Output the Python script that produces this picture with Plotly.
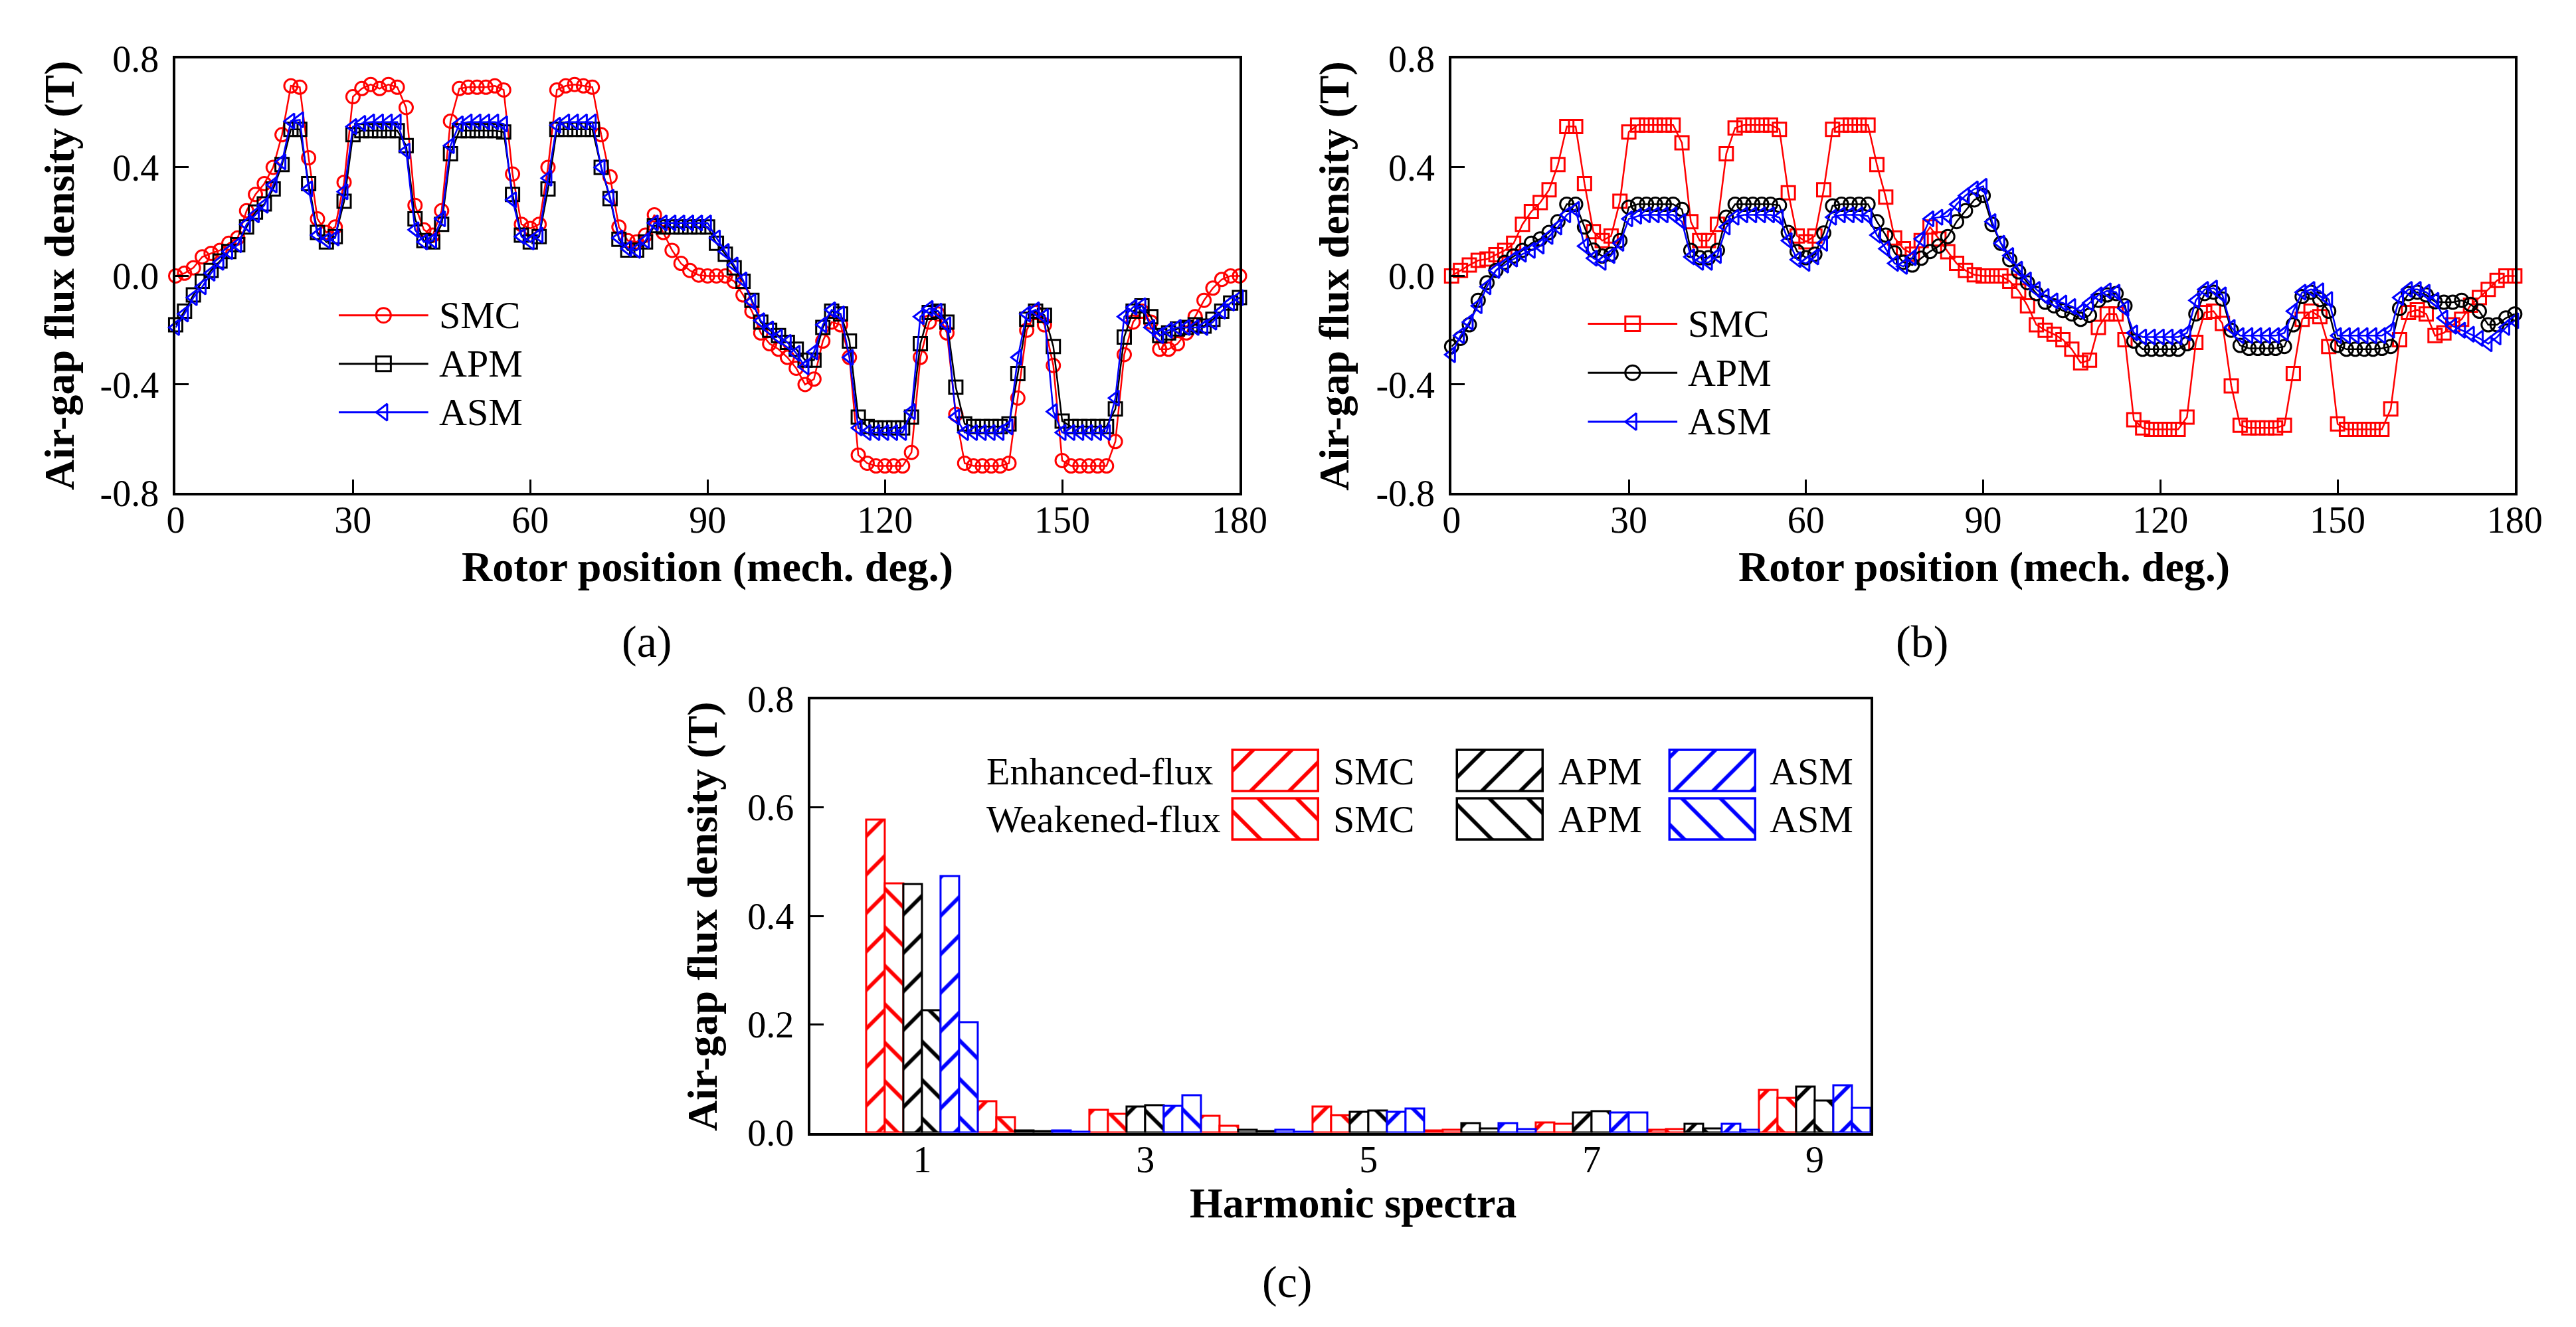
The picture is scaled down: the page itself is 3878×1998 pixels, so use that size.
import plotly.graph_objects as go

# ── Data ───────────────────────────────────────────────────────────────────────

ROTOR_POS = [i * 1.5 for i in range(121)]   # 0 … 180 mech. deg, 1.5 deg step

# (a) enhanced-flux air-gap flux density (T)
ENH_SMC = [
    0.00, 0.01, 0.03, 0.07, 0.083, 0.094, 0.12, 0.14, 0.24, 0.30,
    0.34, 0.40, 0.52, 0.70, 0.695, 0.435, 0.21, 0.16, 0.18, 0.345,
    0.66, 0.69, 0.705, 0.69, 0.705, 0.695, 0.62, 0.26, 0.17, 0.15,
    0.24, 0.57, 0.69, 0.695, 0.695, 0.695, 0.70, 0.685, 0.375, 0.19,
    0.175, 0.19, 0.40, 0.685, 0.70, 0.705, 0.70, 0.695, 0.52, 0.365,
    0.18, 0.13, 0.125, 0.15, 0.225, 0.16, 0.094, 0.046, 0.02, 0.003,
    0.00, 0.00, 0.00, -0.02, -0.07, -0.13, -0.21, -0.25, -0.27, -0.30,
    -0.34, -0.40, -0.38, -0.24, -0.17, -0.18, -0.30, -0.66, -0.69, -0.70,
    -0.70, -0.70, -0.70, -0.65, -0.30, -0.17, -0.14, -0.21, -0.51, -0.69,
    -0.70, -0.70, -0.70, -0.70, -0.69, -0.45, -0.20, -0.135, -0.18, -0.33,
    -0.68, -0.70, -0.70, -0.70, -0.70, -0.70, -0.61, -0.29, -0.17, -0.13,
    -0.17, -0.27, -0.27, -0.25, -0.21, -0.15, -0.09, -0.045, -0.013, 0.00,
    0.00,
]
ENH_APM = [
    -0.18, -0.13, -0.07, -0.02, 0.02, 0.055, 0.09, 0.115, 0.18, 0.235,
    0.265, 0.32, 0.41, 0.54, 0.54, 0.34, 0.16, 0.125, 0.145, 0.275,
    0.52, 0.535, 0.535, 0.535, 0.535, 0.535, 0.48, 0.21, 0.13, 0.125,
    0.19, 0.45, 0.535, 0.535, 0.535, 0.535, 0.535, 0.53, 0.30, 0.15,
    0.125, 0.145, 0.32, 0.54, 0.54, 0.54, 0.54, 0.54, 0.40, 0.285,
    0.135, 0.095, 0.095, 0.125, 0.185, 0.18, 0.18, 0.18, 0.18, 0.18,
    0.18, 0.12, 0.08, 0.03, -0.02, -0.09, -0.17, -0.20, -0.22, -0.245,
    -0.27, -0.31, -0.31, -0.19, -0.13, -0.14, -0.24, -0.52, -0.555, -0.56,
    -0.56, -0.56, -0.56, -0.52, -0.25, -0.135, -0.13, -0.17, -0.41, -0.545,
    -0.555, -0.555, -0.555, -0.555, -0.545, -0.36, -0.16, -0.13, -0.145, -0.26,
    -0.535, -0.555, -0.555, -0.555, -0.555, -0.555, -0.49, -0.225, -0.13, -0.11,
    -0.15, -0.22, -0.21, -0.195, -0.19, -0.18, -0.185, -0.16, -0.13, -0.10,
    -0.08,
]
ENH_ASM = [
    -0.19, -0.14, -0.08, -0.04, 0.01, 0.05, 0.09, 0.115, 0.19, 0.225,
    0.26, 0.335, 0.42, 0.57, 0.575, 0.32, 0.15, 0.13, 0.14, 0.31,
    0.55, 0.562, 0.567, 0.567, 0.567, 0.567, 0.46, 0.17, 0.125, 0.13,
    0.21, 0.48, 0.56, 0.567, 0.567, 0.567, 0.567, 0.56, 0.28, 0.145,
    0.125, 0.15, 0.36, 0.555, 0.567, 0.567, 0.567, 0.567, 0.40, 0.29,
    0.14, 0.10, 0.094, 0.13, 0.195, 0.195, 0.195, 0.195, 0.195, 0.195,
    0.195, 0.14, 0.09, 0.04, -0.015, -0.095, -0.165, -0.195, -0.225, -0.245,
    -0.285, -0.335, -0.28, -0.18, -0.125, -0.14, -0.30, -0.56, -0.577, -0.577,
    -0.577, -0.577, -0.577, -0.50, -0.15, -0.12, -0.13, -0.18, -0.52, -0.577,
    -0.577, -0.577, -0.577, -0.577, -0.556, -0.30, -0.14, -0.125, -0.15, -0.50,
    -0.577, -0.577, -0.577, -0.577, -0.577, -0.577, -0.45, -0.15, -0.115, -0.11,
    -0.19, -0.22, -0.20, -0.19, -0.19, -0.19, -0.19, -0.17, -0.13, -0.10,
    -0.08,
]

# (b) weakened-flux air-gap flux density (T)
WEAK_SMC = [
    0.00, 0.02, 0.04, 0.057, 0.062, 0.078, 0.094, 0.12, 0.19, 0.237,
    0.27, 0.317, 0.41, 0.55, 0.55, 0.34, 0.163, 0.13, 0.147, 0.275,
    0.53, 0.556, 0.556, 0.556, 0.556, 0.556, 0.49, 0.20, 0.13, 0.13,
    0.19, 0.45, 0.545, 0.556, 0.556, 0.556, 0.556, 0.54, 0.306, 0.147,
    0.126, 0.147, 0.317, 0.54, 0.556, 0.556, 0.556, 0.556, 0.41, 0.29,
    0.14, 0.10, 0.08, 0.13, 0.18, 0.136, 0.089, 0.046, 0.02, 0.004,
    0.00, 0.00, 0.00, -0.02, -0.055, -0.11, -0.18, -0.20, -0.215, -0.235,
    -0.27, -0.32, -0.31, -0.19, -0.14, -0.14, -0.235, -0.53, -0.56, -0.565,
    -0.565, -0.565, -0.565, -0.52, -0.245, -0.135, -0.13, -0.175, -0.405, -0.55,
    -0.56, -0.56, -0.56, -0.56, -0.55, -0.36, -0.16, -0.13, -0.15, -0.26,
    -0.545, -0.565, -0.565, -0.565, -0.565, -0.565, -0.49, -0.235, -0.135, -0.125,
    -0.14, -0.22, -0.21, -0.18, -0.16, -0.108, -0.08, -0.05, -0.017, 0.00,
    0.00,
]
WEAK_APM = [
    -0.26, -0.23, -0.18, -0.09, -0.025, 0.02, 0.05, 0.073, 0.094, 0.12,
    0.136, 0.16, 0.20, 0.264, 0.264, 0.18, 0.095, 0.073, 0.08, 0.13,
    0.253, 0.264, 0.264, 0.264, 0.264, 0.264, 0.245, 0.094, 0.067, 0.067,
    0.094, 0.216, 0.264, 0.264, 0.264, 0.264, 0.264, 0.26, 0.16, 0.09,
    0.067, 0.08, 0.158, 0.258, 0.264, 0.264, 0.264, 0.264, 0.20, 0.15,
    0.085, 0.05, 0.04, 0.065, 0.09, 0.11, 0.145, 0.20, 0.24, 0.28,
    0.296, 0.19, 0.12, 0.06, 0.015, -0.025, -0.065, -0.097, -0.11, -0.128,
    -0.14, -0.16, -0.145, -0.09, -0.07, -0.065, -0.11, -0.24, -0.27, -0.27,
    -0.27, -0.27, -0.27, -0.25, -0.14, -0.065, -0.06, -0.085, -0.20, -0.256,
    -0.267, -0.267, -0.267, -0.267, -0.26, -0.18, -0.076, -0.06, -0.087, -0.13,
    -0.256, -0.27, -0.27, -0.27, -0.27, -0.267, -0.26, -0.12, -0.065, -0.06,
    -0.07, -0.095, -0.097, -0.097, -0.09, -0.105, -0.13, -0.18, -0.18, -0.155,
    -0.14,
]
WEAK_ASM = [
    -0.29, -0.22, -0.17, -0.11, -0.04, 0.02, 0.04, 0.062, 0.08, 0.094,
    0.11, 0.145, 0.18, 0.225, 0.245, 0.11, 0.065, 0.05, 0.075, 0.12,
    0.21, 0.22, 0.225, 0.225, 0.225, 0.225, 0.20, 0.07, 0.05, 0.05,
    0.075, 0.18, 0.216, 0.225, 0.225, 0.225, 0.225, 0.215, 0.13, 0.06,
    0.046, 0.07, 0.12, 0.216, 0.225, 0.225, 0.225, 0.22, 0.15, 0.10,
    0.046, 0.035, 0.067, 0.136, 0.21, 0.216, 0.22, 0.264, 0.296, 0.32,
    0.33, 0.20, 0.12, 0.075, 0.025, -0.015, -0.05, -0.076, -0.092, -0.10,
    -0.113, -0.13, -0.10, -0.07, -0.055, -0.06, -0.12, -0.21, -0.225, -0.225,
    -0.225, -0.225, -0.225, -0.21, -0.09, -0.05, -0.045, -0.07, -0.19, -0.22,
    -0.22, -0.22, -0.22, -0.22, -0.21, -0.13, -0.06, -0.05, -0.055, -0.087,
    -0.22, -0.22, -0.22, -0.22, -0.22, -0.22, -0.20, -0.08, -0.05, -0.05,
    -0.06, -0.09, -0.155, -0.185, -0.20, -0.215, -0.23, -0.25, -0.225, -0.19,
    -0.165,
]

# (c) harmonic spectra (T)
HARMONIC_ORDER = [1, 2, 3, 4, 5, 6, 7, 8, 9]
HARM_ENH_SMC = [0.577, 0.0575, 0.0416, 0.031, 0.0476, 0.004, 0.0186, 0.0044, 0.0785]
HARM_WEAK_SMC = [0.46, 0.028, 0.034, 0.012, 0.0325, 0.0048, 0.0166, 0.0067, 0.0634]
HARM_ENH_APM = [0.458, 0.004, 0.0476, 0.005, 0.038, 0.0178, 0.0369, 0.0163, 0.085]
HARM_WEAK_APM = [0.226, 0.002, 0.05, 0.003, 0.0404, 0.008, 0.0389, 0.0071, 0.0583]
HARM_ENH_ASM = [0.473, 0.004, 0.0488, 0.005, 0.038, 0.0178, 0.0365, 0.0163, 0.0868]
HARM_WEAK_ASM = [0.203, 0.001, 0.069, 0.0015, 0.0444, 0.006, 0.0365, 0.0055, 0.046]

MACHINES = ["SMC", "APM", "ASM"]
COLORS = ["#ff0000", "#000000", "#0000ff"]

WAVE_TICKS = [-0.8, -0.4, 0.0, 0.4, 0.8]
WAVE_TICKTEXT = ["-0.8", "-0.4", "0.0", "0.4", "0.8"]
HARM_TICKS = [0.0, 0.2, 0.4, 0.6, 0.8]
HARM_TICKTEXT = ["0.0", "0.2", "0.4", "0.6", "0.8"]

# ── Layout constants (pixels of the 3878 x 1998 page) ──────────────────────────

W, H = 3878, 1998
FONT = "Liberation Serif, Times New Roman, serif"
TICK_SIZE = 56
TITLE_SIZE = 64
LEG_SIZE = 58
X_STANDOFF = -12     # x tick labels sit close under the frame
Y_STANDOFF = 10


def px(x):
    return x / W


def py(y):
    return 1 - y / H


A_X, B_X, C_X = (246, 1871), (2195, 3819), (1216, 2835)
AB_Y, C_Y = (52, 727), (1047, 1721)

_AXIS = dict(showline=True, linewidth=4, linecolor="black", mirror=True,
             ticks="inside", ticklen=20, tickwidth=3, tickcolor="black",
             showgrid=False, zeroline=False,
             tickfont=dict(family=FONT, size=TICK_SIZE, color="black"))


def frame_xaxis(xr, anchor, **kw):
    d = dict(_AXIS, domain=[px(xr[0]), px(xr[1])], anchor=anchor,
             ticklabelstandoff=X_STANDOFF)
    d.update(kw)
    return d


def frame_yaxis(yr, anchor, **kw):
    d = dict(_AXIS, domain=[py(yr[1]), py(yr[0])], anchor=anchor,
             ticklabelstandoff=Y_STANDOFF)
    d.update(kw)
    return d


def hidden(domain, rng, anchor):
    return dict(domain=domain, range=rng, visible=False, fixedrange=True, anchor=anchor)


fig = go.Figure()

# ── (a) and (b) waveforms ──────────────────────────────────────────────────────

panels = [
    ("x", "y", [ENH_SMC, ENH_APM, ENH_ASM], ["circle-open", "square-open", "triangle-left-open"]),
    ("x2", "y2", [WEAK_SMC, WEAK_APM, WEAK_ASM], ["square-open", "circle-open", "triangle-left-open"]),
]
for xa, ya, series, symbols in panels:
    for vals, name, col, sym in zip(series, MACHINES, COLORS, symbols):
        fig.add_trace(go.Scatter(
            x=ROTOR_POS, y=vals, mode="lines+markers", name=name, showlegend=False,
            xaxis=xa, yaxis=ya, cliponaxis=False,
            line=dict(color=col, width=2.5),
            marker=dict(symbol=sym, size=20, color=col, line=dict(width=3, color=col)),
        ))

# legend keys for (a) and (b) on hidden helper axes
legend_axes = [("x4", "y4", panels[0][3]), ("x5", "y5", panels[1][3])]
for xa, ya, symbols in legend_axes:
    for i, (name, col, sym) in enumerate(zip(MACHINES, COLORS, symbols)):
        row = 2 - i
        fig.add_trace(go.Scatter(x=[0, 1], y=[row, row], mode="lines", showlegend=False,
                                 xaxis=xa, yaxis=ya, cliponaxis=False,
                                 line=dict(color=col, width=3)))
        fig.add_trace(go.Scatter(x=[0.5], y=[row], mode="markers", showlegend=False,
                                 xaxis=xa, yaxis=ya, cliponaxis=False,
                                 marker=dict(symbol=sym, size=22, color=col,
                                             line=dict(width=3, color=col))))
        fig.add_annotation(xref=xa, yref=ya, x=1, y=row, text=name, showarrow=False,
                           xanchor="left", xshift=14,
                           font=dict(family=FONT, size=LEG_SIZE, color="black"))

# ── (c) harmonic spectra ───────────────────────────────────────────────────────

PAT = dict(size=41, solidity=0.14, bgcolor="white", fgopacity=1)
bars = [
    (HARM_ENH_SMC, COLORS[0], "/"), (HARM_WEAK_SMC, COLORS[0], "\\"),
    (HARM_ENH_APM, COLORS[1], "/"), (HARM_WEAK_APM, COLORS[1], "\\"),
    (HARM_ENH_ASM, COLORS[2], "/"), (HARM_WEAK_ASM, COLORS[2], "\\"),
]
for vals, col, shape in bars:
    fig.add_trace(go.Bar(
        x=HARMONIC_ORDER, y=vals, xaxis="x3", yaxis="y3", showlegend=False,
        marker=dict(color="white", line=dict(color=col, width=3),
                    pattern=dict(shape=shape, fgcolor=col, **PAT)),
    ))

# legend swatches for (c), on a helper axis measured in page pixels
SW_COLS = [1926, 2269, 2594]          # swatch centres (px)
SW_ROWS = [(1127, 64), (1202, 64)]    # (top, height) px
SW_TEXT_X = [2012, 2356, 2679]
sw_x, sw_base, sw_h, sw_col, sw_shape = [], [], [], [], []
for (top, h), shape in zip(SW_ROWS, ["/", "\\"]):
    for cx, col in zip(SW_COLS, COLORS):
        sw_x.append(cx); sw_base.append(top); sw_h.append(h)
        sw_col.append(col); sw_shape.append(shape)
fig.add_trace(go.Bar(
    x=sw_x, y=sw_h, base=sw_base, width=131, xaxis="x6", yaxis="y6", showlegend=False,
    marker=dict(color="white", line=dict(color=sw_col, width=3.5),
                pattern=dict(shape=sw_shape, fgcolor=sw_col, **PAT)),
))
for (top, h), label in zip(SW_ROWS, ["Enhanced-flux", "Weakened-flux"]):
    yc = py(top + h / 2)
    fig.add_annotation(xref="paper", yref="paper", x=px(1482), y=yc, text=label,
                       showarrow=False, xanchor="left",
                       font=dict(family=FONT, size=LEG_SIZE, color="black"))
    for tx, name in zip(SW_TEXT_X, MACHINES):
        fig.add_annotation(xref="paper", yref="paper", x=px(tx), y=yc, text=name,
                           showarrow=False, xanchor="left",
                           font=dict(family=FONT, size=LEG_SIZE, color="black"))

# ── Axis titles and panel labels ───────────────────────────────────────────────

YT = "<b>Air-gap flux density (T)</b>"
XT = "<b>Rotor position (mech. deg.)</b>"
titles = [
    (1058, 842, XT, 0), (69, 389, YT, -90),
    (3008, 842, XT, 0), (2016, 389, YT, -90),
    (2045, 1830, "<b>Harmonic spectra</b>", 0), (1050, 1384, YT, -90),
]
for x, y, t, ang in titles:
    fig.add_annotation(xref="paper", yref="paper", x=px(x), y=py(y), text=t, textangle=ang,
                       showarrow=False, xanchor="center", yanchor="middle",
                       font=dict(family=FONT, size=TITLE_SIZE, color="black"))
for x, y, t in [(965, 958, "(a)"), (2914, 958, "(b)"), (1944, 1953, "(c)")]:
    fig.add_annotation(xref="paper", yref="paper", x=px(x), y=py(y), text=t,
                       showarrow=False, xanchor="center", yanchor="middle",
                       font=dict(family=FONT, size=68, color="black"))

fig.update_layout(
    width=W, height=H, margin=dict(l=0, r=0, t=0, b=0),
    paper_bgcolor="white", plot_bgcolor="white",
    barmode="group", bargap=0, bargroupgap=0, showlegend=False,
    xaxis=frame_xaxis(A_X, "y", range=[0, 180], dtick=30),
    yaxis=frame_yaxis(AB_Y, "x", range=[-0.8, 0.8], tickvals=WAVE_TICKS,
                      ticktext=WAVE_TICKTEXT),
    xaxis2=frame_xaxis(B_X, "y2", range=[0, 180], dtick=30),
    yaxis2=frame_yaxis(AB_Y, "x2", range=[-0.8, 0.8], tickvals=WAVE_TICKS,
                       ticktext=WAVE_TICKTEXT),
    xaxis3=frame_xaxis(C_X, "y3", range=[0, 9.5], tickvals=[1, 3, 5, 7, 9], ticks=""),
    yaxis3=frame_yaxis(C_Y, "x3", range=[0, 0.8], tickvals=HARM_TICKS,
                       ticktext=HARM_TICKTEXT),
    xaxis4=hidden([px(495), px(632)], [0, 1], "y4"),
    yaxis4=hidden([py(639), py(413)], [-0.5, 2.5], "x4"),
    xaxis5=hidden([px(2403), px(2540)], [0, 1], "y5"),
    yaxis5=hidden([py(654), py(426)], [-0.5, 2.5], "x5"),
    xaxis6=hidden([px(1800), px(2800)], [1800, 2800], "y6"),
    yaxis6=hidden([py(1300), py(1100)], [1300, 1100], "x6"),
)

fig.write_html("out.html", config={"displayModeBar": False})
